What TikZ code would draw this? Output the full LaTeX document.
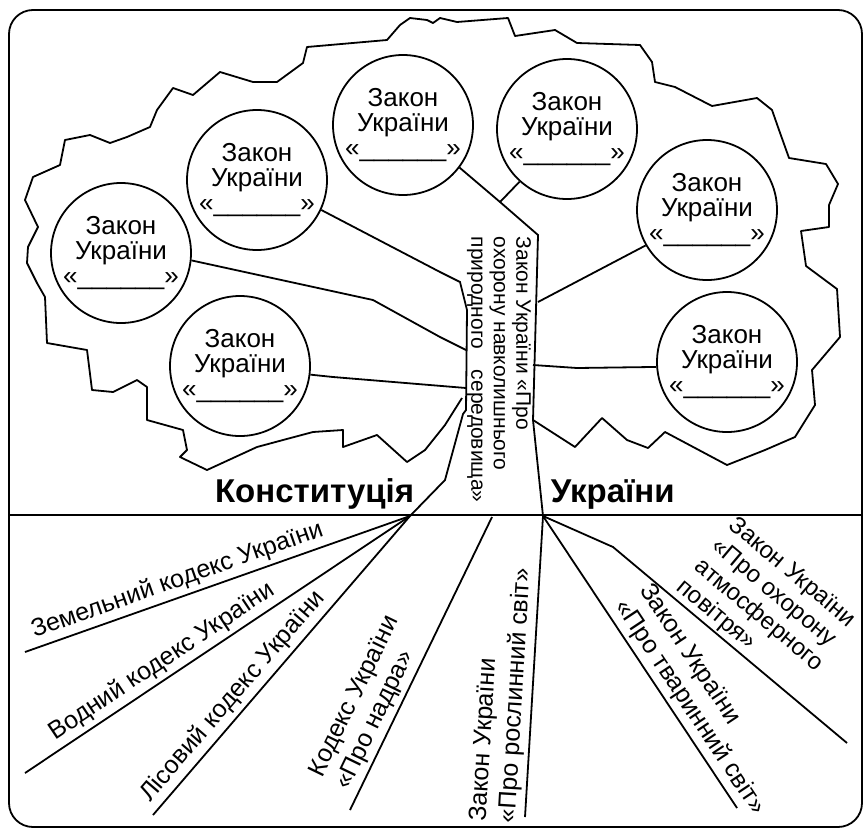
\documentclass[tikz,border=0pt]{standalone}
\usepackage{fontspec}
\setmainfont{Liberation Sans}
\usetikzlibrary{positioning}

\begin{document}
\begin{tikzpicture}[
  x=0.5pt,y=-0.5pt,
  line width=0.9pt,
  every node/.style={font=\fontsize{12.5}{14.5}\selectfont},
  law/.style={draw,circle,fill=white,minimum size=70pt,inner sep=0pt,align=center,
    font=\fontsize{13}{12.5}\selectfont},
  lbl/.style={sloped,above=1pt,align=left,inner sep=1pt},
  title/.style={font=\fontsize{16.5}{16.5}\selectfont\bfseries,inner sep=0pt}
]
  \useasboundingbox (0,0) rectangle (865,830);
  \draw[rounded corners=12pt] (9,10) rectangle (862,827);
  \coordinate (groundW) at (9,515);
  \coordinate (groundE) at (862,515);
  \draw[line width=0.8pt] (groundW) -- (groundE);

  \draw[line join=round] (462,398) -- (445,425) -- (425,450) -- (407,462) -- (377,435) -- (343,447)
    -- (343,430) -- (313,432) -- (283,440) -- (257,447) -- (207,470) -- (180,457) -- (187,450)
    -- (183,430) -- (147,420) -- (147,387) -- (137,380) -- (113,392) -- (92,390) -- (87,350)
    -- (47,343) -- (45,297) -- (37,283) -- (27,263) -- (28,247) -- (38,227) -- (25,200)
    -- (33,177) -- (60,165) -- (65,140) -- (90,135) -- (110,143) -- (127,137) -- (150,127)
    -- (157,110) -- (173,88) -- (193,95) -- (220,72) -- (253,82) -- (277,82) -- (303,63)
    -- (307,47) -- (387,40) -- (400,25) -- (410,18) -- (427,20) -- (433,23) -- (440,18)
    -- (457,22) -- (508,18) -- (515,36) -- (555,30) -- (577,43) -- (640,45) -- (652,62)
    -- (655,82) -- (675,87) -- (712,106) -- (757,98) -- (772,110) -- (779,130) -- (789,158)
    -- (826,164) -- (838,184) -- (829,205) -- (829,227) -- (801,231) -- (806,266) -- (837,289)
    -- (840,337) -- (812,370) -- (815,405) -- (795,437) -- (765,450) -- (727,465) -- (665,432)
    -- (648,448) -- (627,440) -- (602,418) -- (575,447) -- (533,420);

  \node[law] (law1) at (121,253) {Закон\\України\\«\_\_\_\_\_\_»};
  \node[law] (law2) at (257,180) {Закон\\України\\«\_\_\_\_\_\_»};
  \node[law] (law3) at (403,125) {Закон\\України\\«\_\_\_\_\_\_»};
  \node[law] (law4) at (567,129) {Закон\\України\\«\_\_\_\_\_\_»};
  \node[law] (law5) at (707,210) {Закон\\України\\«\_\_\_\_\_\_»};
  \node[law] (law6) at (727,362) {Закон\\України\\«\_\_\_\_\_\_»};
  \node[law] (law7) at (240,366) {Закон\\України\\«\_\_\_\_\_\_»};

  \coordinate (rootL) at (410,516);
  \coordinate (rootR) at (543,516);
  \coordinate (nadra) at (492,517);
  \draw (law1.-6) -- (373,300) -- (440,337) -- (466,350);
  \draw (law7.-7) -- (333,377) -- (466,388);
  \draw (law2.-25) -- (440,272) -- (460,282) -- (467,310) -- (466,410) -- (463,414) -- (445,480) -- (rootL);
  \draw (law3.-37) -- (500,202) coordinate (fork) -- (538,235) -- (533,420) -- (rootR);
  \draw (law4.228) -- (fork);
  \draw (law5.210) -- (538,302);
  \draw (law6.184) -- (577,368) -- (533,365);

  \node[rotate=-90,anchor=north west,align=left,inner sep=0pt,font=\fontsize{10.5}{11.25}\selectfont]
    (trunkLbl) at (532,236) {Закон України «Про\\охорону навколишнього\\природного\quad середовища»};

  \node[title,anchor=base east] (konst) at (415,502) {Конституція};
  \node[title,anchor=base west] (ukr) at (550,502) {України};

  \coordinate (zemEnd) at (25,652);
  \coordinate (vodEnd) at (25,773);
  \coordinate (lisEnd) at (153,815);
  \coordinate (nadraEnd) at (350,810);
  \coordinate (roslEnd) at (525,817);
  \coordinate (tvarEnd) at (737,808);
  \coordinate (airBend) at (613,547);
  \coordinate (airEnd) at (847,743);
  \draw (rootL) -- (zemEnd) node[lbl,pos=0.59] (zemLbl) {Земельний кодекс України};
  \draw (rootL) -- (vodEnd) node[lbl,pos=0.62] (vodLbl) {Водний кодекс України};
  \draw (rootL) -- (lisEnd) node[lbl,pos=0.64] (lisLbl) {Лісовий кодекс України};
  \draw (nadra) -- (nadraEnd) node[lbl,pos=0.68] (nadraLbl) {Кодекс України\\«Про надра»};
  \draw (rootR) -- (roslEnd) node[lbl,pos=0.6] (roslLbl) {Закон України\\«Про рослинний світ»};
  \draw (rootR) -- (tvarEnd) node[lbl,pos=0.687] (tvarLbl) {Закон України\\«Про тваринний світ»};
  \draw (rootR) -- (airBend) -- (airEnd) node[lbl,pos=0.51,above=0pt,font=\fontsize{12}{13.5}\selectfont]
    (airLbl) {Закон України\\«Про охорону\\атмосферного\\повітря»};
\end{tikzpicture}
\end{document}
